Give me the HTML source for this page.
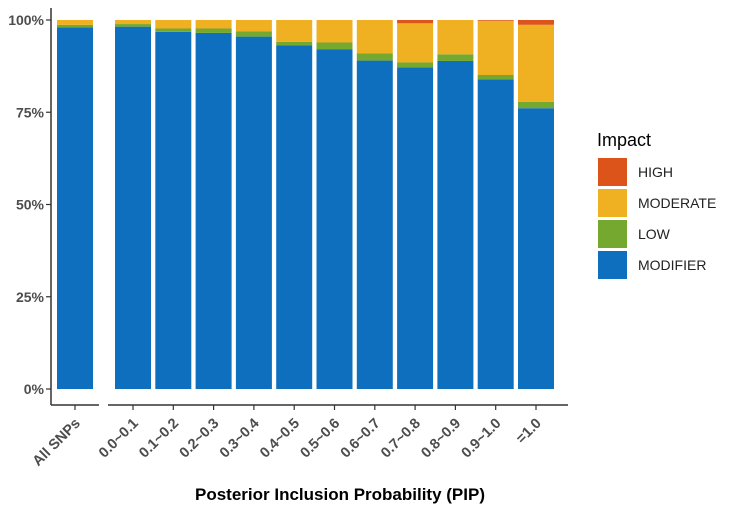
<!DOCTYPE html>
<html><head><meta charset="utf-8"><style>
body{margin:0;background:#fff;}
svg{display:block;font-family:"Liberation Sans",sans-serif;}
</style></head><body>
<svg id="chart" width="729" height="505">
<g id="bars"></g>
<g id="axes"></g>
<g id="legend"></g>
<text x="340" y="500" text-anchor="middle" font-size="17" font-weight="bold" fill="#000">Posterior Inclusion Probability (PIP)</text>
</svg>
<script>
const categories = ["All SNPs","0.0~0.1","0.1~0.2","0.2~0.3","0.3~0.4","0.4~0.5","0.5~0.6","0.6~0.7","0.7~0.8","0.8~0.9","0.9~1.0","=1.0"];
const modifierVals = [98.0,98.2,96.8,96.5,95.5,93.1,92.1,89.0,87.2,88.9,83.9,76.1];
const lowVals      = [0.7,0.7,0.9,1.2,1.4,1.0,1.8,2.0,1.3,1.8,1.2,1.7];
const highVals     = [0,0,0,0,0,0,0,0,0.9,0,0.2,1.3];
const yTicks = [0,25,50,75,100];
const yTickLabels = ["0%","25%","50%","75%","100%"];
const seriesNames = ["HIGH","MODERATE","LOW","MODIFIER"];
const colors = {HIGH:"#dc5419",MODERATE:"#efb021",LOW:"#74a82e",MODIFIER:"#0e6fbf"};
const NS="http://www.w3.org/2000/svg";
function mk(t,a,p){const e=document.createElementNS(NS,t);for(const k in a)e.setAttribute(k,a[k]);p.appendChild(e);return e;}
const y0=389,y1=20;
function yScale(v){return y0-(y0-y1)*v/100;}
function xCenter(i){return i===0?75:133+(i-1)*40.3;}
const bw=36;
const bars=document.getElementById('bars');
categories.forEach((c,i)=>{
  const mod=modifierVals[i],low=lowVals[i],high=highVals[i],modr=100-mod-low-high;
  const segs=[["MODIFIER",0,mod],["LOW",mod,mod+low],["MODERATE",mod+low,mod+low+modr],["HIGH",mod+low+modr,100]];
  segs.forEach(s=>{
    if(s[2]-s[1]<=0)return;
    const r=mk('rect',{x:xCenter(i)-bw/2,y:yScale(s[2]),width:bw,height:yScale(s[1])-yScale(s[2]),fill:colors[s[0]]},bars);
    
    
  });
});
const axes=document.getElementById('axes');
let l=mk('line',{x1:51,y1:8,x2:51,y2:405,stroke:"#333","stroke-width":1.5},axes);

l=mk('line',{x1:51,y1:405,x2:99,y2:405,stroke:"#333","stroke-width":1.5},axes);

l=mk('line',{x1:108,y1:405,x2:568,y2:405,stroke:"#333","stroke-width":1.5},axes);

yTicks.forEach((v,i)=>{
  const y=yScale(v);
  const t=mk('line',{x1:46,y1:y,x2:51,y2:y,stroke:"#333","stroke-width":1.2},axes);
  
  const tx=mk('text',{x:44,y:y+5,"text-anchor":"end","font-size":14,"font-weight":"bold",fill:"#4d4d4d"},axes);
  tx.textContent=yTickLabels[i];
  
});
categories.forEach((c,i)=>{
  const x=xCenter(i);
  const t=mk('line',{x1:x,y1:405,x2:x,y2:410,stroke:"#333","stroke-width":1.2},axes);
  
  const ax=x+6, ay=424;
  const tx=mk('text',{x:ax,y:ay,"text-anchor":"end","font-size":14.5,"font-weight":"bold",fill:"#4d4d4d",transform:`rotate(-45 ${ax} ${ay})`},axes);
  tx.textContent=c;
  
});
const lg=document.getElementById('legend');
const tt=mk('text',{x:597,y:146,"font-size":18,fill:"#000"},lg);
tt.textContent="Impact";
seriesNames.forEach((n,i)=>{
  const y=158+i*31;
  const r=mk('rect',{x:598,y:y,width:29,height:28,fill:colors[n]},lg);
  
  const t=mk('text',{x:638,y:y+19,"font-size":14,fill:"#222"},lg);
  t.textContent=n;
});
</script>
</body></html>
